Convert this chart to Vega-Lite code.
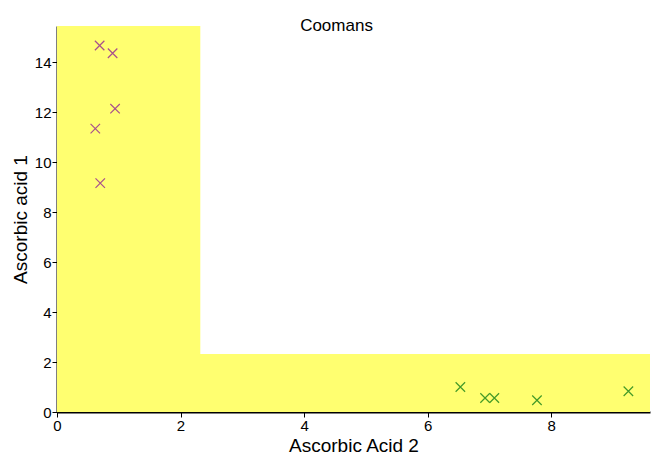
{
  "$schema": "https://vega.github.io/schema/vega-lite/v6.json",
  "autosize": "none",
  "width": 593,
  "height": 386,
  "padding": {"left": 57, "top": 26, "right": 2, "bottom": 43},
  "background": "white",
  "title": {"text": "Coomans", "fontSize": 17, "fontWeight": "normal", "font": "Liberation Sans", "color": "black", "anchor": "middle", "dx": -17, "offset": -9},
  "config": {
    "view": {"stroke": null},
    "font": "Liberation Sans",
    "axis": {"grid": false, "zindex": 1, "domainColor": "#000000", "domainOpacity": 1, "tickColor": "black", "labelColor": "black", "titleColor": "black", "labelFont": "Liberation Sans", "titleFont": "Liberation Sans", "labelFontSize": 15, "titleFontSize": 19, "titleFontWeight": "normal", "tickSize": 5, "domainWidth": 2, "labelPadding": 1, "labelFlush": false, "format": "d"}
  },
  "layer": [
    {
      "data": {"values": [
        {"region": "class 1", "x0": 0, "x1": 2.32, "y0": 0, "y1": 15.45},
        {"region": "class 2", "x0": 0, "x1": 9.6, "y0": 0, "y1": 2.32}
      ]},
      "mark": {"type": "rect", "color": "#ffff70", "stroke": null},
      "encoding": {
        "x": {"field": "x0", "type": "quantitative", "scale": {"domain": [0, 9.6], "nice": false, "zero": true}, "axis": {"title": "Ascorbic Acid 2", "values": [0, 2, 4, 6, 8], "titlePadding": 3, "format": "d", "labelFlush": false}},
        "x2": {"field": "x1"},
        "y": {"field": "y0", "type": "quantitative", "scale": {"domain": [0, 15.45], "nice": false}, "axis": {"title": "Ascorbic acid 1", "values": [0, 2, 4, 6, 8, 10, 12, 14], "titlePadding": 4, "format": "d", "labelFlush": false}},
        "y2": {"field": "y1"}
      }
    },
    {
      "data": {"values": [
        {"a2": 0.69, "a1": 14.67, "cls": "1"},
        {"a2": 0.90, "a1": 14.36, "cls": "1"},
        {"a2": 0.94, "a1": 12.14, "cls": "1"},
        {"a2": 0.62, "a1": 11.34, "cls": "1"},
        {"a2": 0.70, "a1": 9.16, "cls": "1"},
        {"a2": 6.53, "a1": 1.00, "cls": "2"},
        {"a2": 6.93, "a1": 0.56, "cls": "2"},
        {"a2": 7.08, "a1": 0.56, "cls": "2"},
        {"a2": 7.77, "a1": 0.47, "cls": "2"},
        {"a2": 9.25, "a1": 0.83, "cls": "2"}
      ]},
      "mark": {"type": "point", "shape": "M-1,-1L1,1M-1,1L1,-1", "filled": false, "size": 90, "strokeWidth": 1.2, "opacity": 1},
      "encoding": {
        "x": {"field": "a2", "type": "quantitative"},
        "y": {"field": "a1", "type": "quantitative"},
        "color": {"field": "cls", "type": "nominal", "scale": {"domain": ["1", "2"], "range": ["#a8508c", "#449a28"]}, "legend": null}
      }
    }
  ]
}
